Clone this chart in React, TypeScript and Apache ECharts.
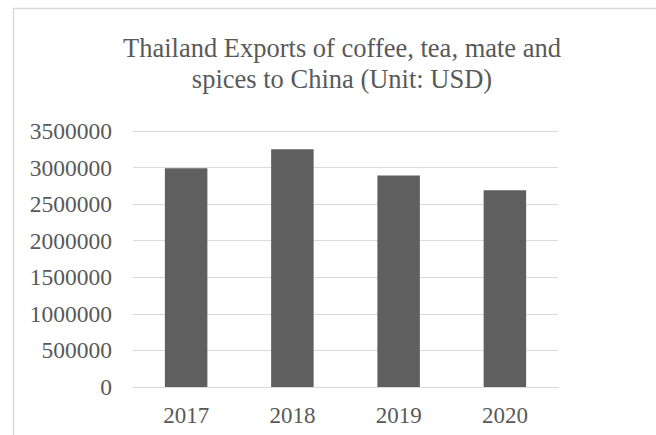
import React, { useEffect, useRef } from "react";
import * as echarts from "echarts";

const categories = ["2017", "2018", "2019", "2020"];
const exportsUSD = [2990000, 3250000, 2890000, 2690000];
const yMin = 0;
const yMax = 3500000;
const yInterval = 500000;
const titleText = "Thailand Exports of coffee, tea, mate and\nspices to China (Unit: USD)";

export default function App() {
  const ref = useRef<HTMLDivElement>(null);
  useEffect(() => {
    if (!ref.current) return;
    const chart = echarts.init(ref.current, undefined, { renderer: "svg" });
    const font = "'Liberation Serif', 'Times New Roman', serif";
    chart.setOption({
      animation: false,
      backgroundColor: "#ffffff",
      title: {
        text: titleText,
        left: 337,
        top: 27,
        textAlign: "center",
        textStyle: {
          fontFamily: font,
          fontSize: 26.5,
          fontWeight: "normal",
          color: "#595959",
          lineHeight: 31,
        },
      },
      graphic: [
        {
          type: "rect",
          shape: { x: 13.5, y: 8.5, width: 800, height: 600 },
          style: { fill: "none", stroke: "#d9d9d9", lineWidth: 1.5 },
          silent: true,
        },
      ],
      grid: { left: 133, right: 98, top: 131, bottom: 48, containLabel: false },
      xAxis: {
        type: "category",
        data: categories,
        axisLine: { show: true, lineStyle: { color: "#d9d9d9", width: 1 } },
        axisTick: { show: false },
        axisLabel: { fontFamily: font, fontSize: 23, color: "#595959", margin: 17 },
      },
      yAxis: {
        type: "value",
        min: yMin,
        max: yMax,
        interval: yInterval,
        axisLine: { show: false },
        axisTick: { show: false },
        splitLine: { lineStyle: { color: "#d9d9d9", width: 1 } },
        axisLabel: {
          fontFamily: font,
          fontSize: 23.5,
          color: "#595959",
          margin: 21,
          formatter: (v: number) => String(v),
        },
      },
      series: [
        {
          type: "bar",
          data: exportsUSD,
          barWidth: "40%",
          itemStyle: { color: "#5f5f5f" },
        },
      ],
    });
    return () => chart.dispose();
  }, []);
  return (
    <div
      ref={ref}
      style={{ position: "fixed", left: 0, top: 0, width: 656, height: 435 }}
    />
  );
}
